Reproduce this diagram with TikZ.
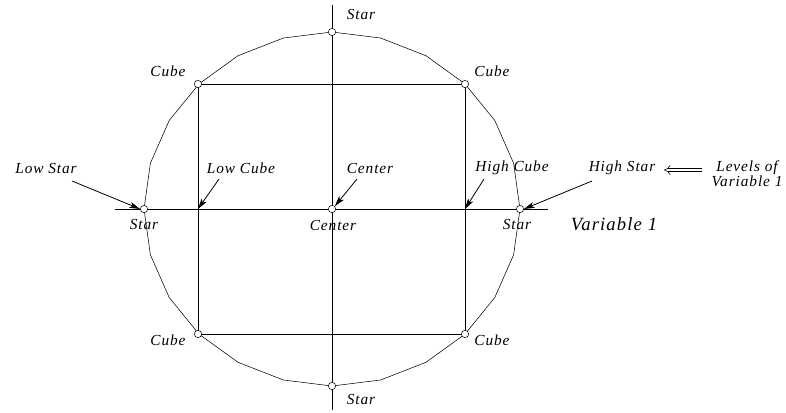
\documentclass[tikz,border=0pt]{standalone}
\usepackage{fontspec}
\setmainfont{Liberation Serif}
\newfontfamily\lblfont[LetterSpace=6]{Liberation Serif}
\usetikzlibrary{arrows.meta,positioning}

\begin{document}
\begin{tikzpicture}[
 x=0.75pt,y=-0.75pt,
 pt/.style={circle,draw,fill=white,inner sep=0pt,minimum size=5.5pt},
 lbl/.style={font=\lblfont\fontsize{11.5}{10}\selectfont\itshape,inner sep=1pt},
 big/.style={font=\lblfont\fontsize{14}{16}\selectfont\itshape,inner sep=1pt},
 ptr/.style={-{Stealth[length=8pt,width=4.5pt,inset=2pt]},semithick},
]
\useasboundingbox (0,0) rectangle (786,412);
% axes and design region
\draw (115,209) -- (548,209);
\draw (332,5) -- (332,410);
\draw plot[samples=25,domain=0:360] ({332+188*cos(\x)},{209+177*sin(\x)});
\draw (198,84) -- (465,84) -- (465,334) -- (198,334) -- cycle;
% design points
\node[pt] (ts) at (332,32) {};
\node[pt] (bs) at (332,386) {};
\node[pt] (ls) at (144,209) {};
\node[pt] (rs) at (520,209) {};
\node[pt] (c0) at (332,209) {};
\node[pt] (tl) at (198,84) {};
\node[pt] (tr) at (465,84) {};
\node[pt] (bl) at (198,334) {};
\node[pt] (br) at (465,334) {};
\coordinate (lc) at (198,209);
\coordinate (hc) at (465,209);
% point labels
\node[lbl] (tsl) at (361,14) {Star};
\node[lbl] (bsl) at (361,399) {Star};
\node[lbl] (lsl) at (144,224) {Star};
\node[lbl] (rsl) at (517,224) {Star};
\node[lbl] (c0l) at (333,225) {Center};
\node[lbl] (tll) at (168,71) {Cube};
\node[lbl] (trl) at (492,71) {Cube};
\node[lbl] (bll) at (168,340) {Cube};
\node[lbl] (brl) at (492,340) {Cube};
\node[big] (var) at (614,224) {Variable 1};
% levels
\node[lbl] (lowstar) at (46,168) {Low Star};
\node[lbl] (lowcube) at (241,168) {Low Cube};
\node[lbl] (cen) at (370,168) {Center};
\node[lbl] (highcube) at (512,168) {High Cube};
\node[lbl] (highstar) at (622,168) {High Star};
\node[lbl,align=center] (levels) at (747,174) {Levels of\\Variable 1};
\coordinate (a1) at (72,181);
\coordinate (a2) at (219,179);
\coordinate (a3) at (357,179);
\coordinate (a4) at (484,179);
\coordinate (a5) at (592,181);
\draw[ptr] (a1) -- (ls.west);
\draw[ptr] (a2) -- (lc);
\draw[ptr] (a3) -- (c0.north east);
\draw[ptr] (a4) -- (hc);
\draw[ptr] (a5) -- (rs.east);
\coordinate (h1) at (702,170);
\coordinate (h2) at (664,170);
\draw[double,double distance=2.2pt,-{Implies}] (h1) -- (h2);
\end{tikzpicture}
\end{document}
